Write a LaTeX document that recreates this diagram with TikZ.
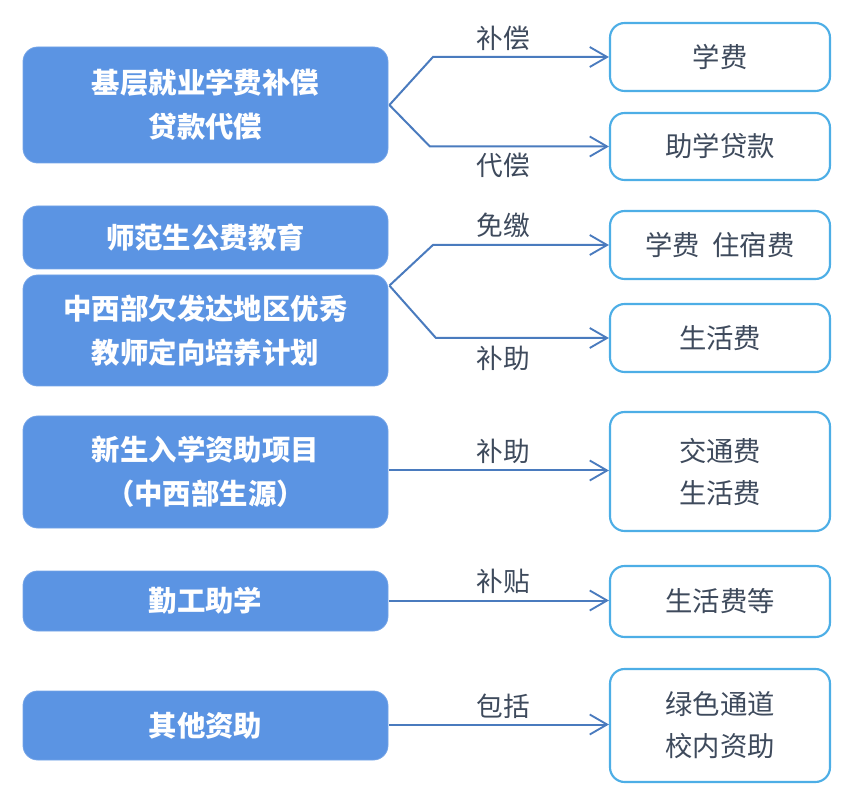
\documentclass[tikz,border=0pt]{standalone}
\usepackage{fontspec}
\setmainfont{Noto Sans CJK SC}
\usetikzlibrary{arrows.meta,calc}
\definecolor{lfill}{HTML}{5B94E3}
\definecolor{rline}{HTML}{4DAEE6}
\definecolor{conncol}{HTML}{4A7BBE}
\definecolor{txtcol}{HTML}{3E4A5C}
\tikzset{
  leftbox/.style={draw=lfill!85!white, line width=0.6pt, fill=lfill, rounded corners=11pt,
    minimum width=273.75pt, align=center, text=white, font=\fontsize{21.3}{33}\selectfont\bfseries, inner sep=0pt},
  rightbox/.style={draw=rline, line width=1.6pt, fill=white, rounded corners=11pt,
    minimum width=165pt, align=center, text=txtcol, font=\fontsize{20.5}{31.5}\selectfont, inner sep=0pt},
  conn/.style={draw=conncol, line width=1.5pt, -{Straight Barb[length=13pt,width=15pt,line width=1.4pt]}},
  lbl/.style={text=txtcol, font=\fontsize{20}{24}\selectfont, inner sep=0pt}
}
\begin{document}
\begin{tikzpicture}[x=0.75pt,y=-0.75pt]
\useasboundingbox (0,0) rectangle (850,798);
% left boxes
\node[leftbox, minimum height=87pt]    (B1) at (205.5,105)   {基层就业学费补偿\\贷款代偿};
\node[leftbox, minimum height=47.25pt] (B2) at (205.5,237.5) {师范生公费教育};
\node[leftbox, minimum height=83.25pt] (B3) at (205.5,330.5) {中西部欠发达地区优秀\\教师定向培养计划};
\node[leftbox, minimum height=84pt]    (B4) at (205.5,472)   {新生入学资助项目\\（中西部生源）};
\node[leftbox, minimum height=45pt]    (B5) at (205.5,601)   {勤工助学};
\node[leftbox, minimum height=51.75pt] (B6) at (205.5,725.5) {其他资助};
% right boxes
\node[rightbox, minimum height=51pt]    (R1) at (720,57)    {学费};
\node[rightbox, minimum height=50.25pt] (R2) at (720,146.5) {助学贷款};
\node[rightbox, minimum height=51pt]    (R3) at (720,245)   {学费\ \ 住宿费};
\node[rightbox, minimum height=51pt]    (R4) at (720,338)   {生活费};
\node[rightbox, minimum height=89.25pt] (R5) at (720,471.5) {交通费\\生活费};
\node[rightbox, minimum height=53.25pt] (R6) at (720,601.5) {生活费等};
\node[rightbox, minimum height=84.75pt] (R7) at (720,725.5) {绿色通道\\校内资助};
% fork points
\coordinate (f1) at ($(B1.east)+(1,0)$);
\coordinate (f2) at ($(B3.north east)+(1,11)$);
% connectors
\draw[conn] (f1) -- ($(R1.west)+(-176,0)$) -- (R1.west);
\draw[conn] (f1) -- ($(R2.west)+(-179,0)$) -- (R2.west);
\draw[conn] (f2) -- ($(R3.west)+(-176,0)$) -- (R3.west);
\draw[conn] (f2) -- ($(R4.west)+(-173,0)$) -- (R4.west);
\draw[conn] ($(B4.east)+(1,-1.5)$) -- (R5.west|-0,470.5);
\draw[conn] ($(B5.east)+(1,-0.5)$) -- (R6.west|-0,600.5);
\draw[conn] ($(B6.east)+(1,-1)$) -- (R7.west|-0,724.5);
% labels
\node[lbl] (L1) at (503.5,38.5)  {补偿};
\node[lbl] (L2) at (503.5,165.5) {代偿};
\node[lbl] (L3) at (503.5,225)   {免缴};
\node[lbl] (L4) at (503.5,358)   {补助};
\node[lbl] (L5) at (503.5,451.5) {补助};
\node[lbl] (L6) at (503.5,581.5) {补贴};
\node[lbl] (L7) at (503.5,706.5) {包括};
\end{tikzpicture}
\end{document}
